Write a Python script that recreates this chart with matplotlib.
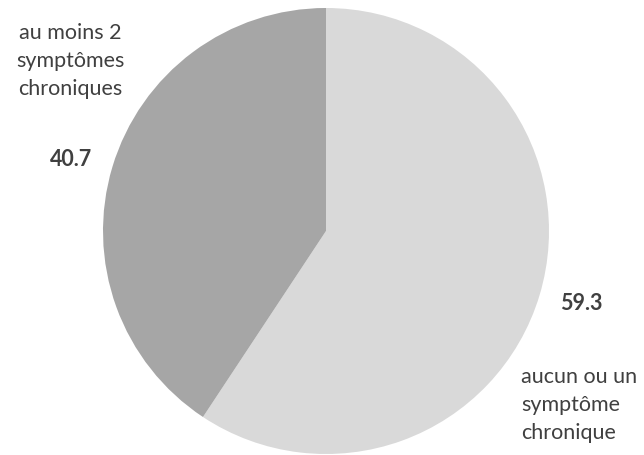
import matplotlib
matplotlib.use("Agg")
import matplotlib.pyplot as plt

categories = ["aucun ou un\nsymptôme\nchronique", "au moins 2\nsymptômes\nchroniques"]
values = [59.3, 40.7]
value_labels = ["59.3", "40.7"]
colors = ["#d9d9d9", "#a6a6a6"]

W, H = 644, 455
fig = plt.figure(figsize=(W / 100, H / 100), dpi=100)
ax = fig.add_axes([0, 0, 1, 1])
ax.set_xlim(0, W)
ax.set_ylim(0, H)
ax.set_aspect("equal")
ax.axis("off")

cx, cy, r = 326, H - 231, 223
ax.pie(values, colors=colors, startangle=90, counterclock=False,
       center=(cx, cy), radius=r, wedgeprops=dict(linewidth=0))
ax.set_xlim(0, W)
ax.set_ylim(0, H)

font = "Lato"
tc = "#404040"
fs = 15.5
# category labels
ax.text(521, H - 405, categories[0], ha="left", va="center", fontsize=fs,
        color=tc, family=font, linespacing=1.5)
ax.text(70, H - 61, categories[1], ha="center", va="center", fontsize=fs,
        color=tc, family=font, linespacing=1.5)
# value labels
ax.text(581, H - 303, value_labels[0], ha="center", va="center", fontsize=fs,
        color=tc, family=font, fontweight="bold")
ax.text(71, H - 160, value_labels[1], ha="center", va="center", fontsize=fs,
        color=tc, family=font, fontweight="bold")

fig.savefig("out.png", dpi=100)
